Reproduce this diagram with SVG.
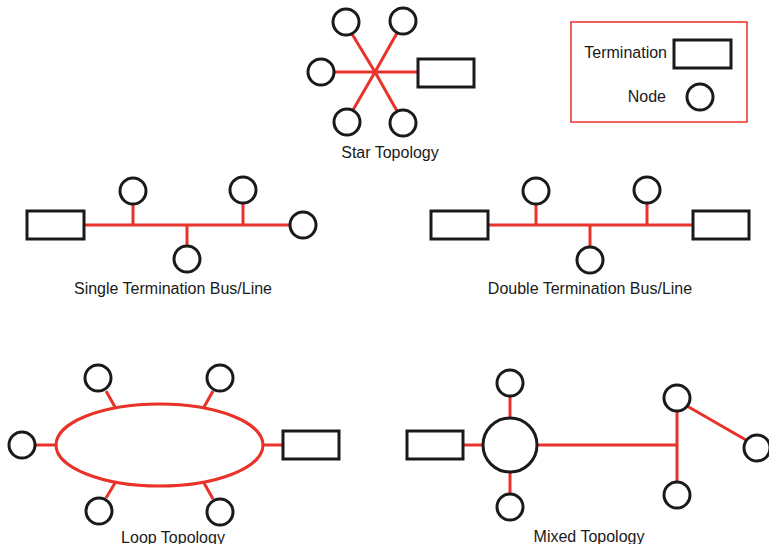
<svg xmlns="http://www.w3.org/2000/svg" width="769" height="544" viewBox="0 0 769 544">
<style>
.n{fill:#fff;stroke:#1a1a1a;stroke-width:3}
.t{fill:#fff;stroke:#1a1a1a;stroke-width:3}
.c{stroke:#e8322a;stroke-width:3;fill:none}
.l{font-family:"Liberation Sans",Arial,sans-serif;font-size:16px;fill:#1a1a1a}
</style>
<rect width="769" height="544" fill="#fff"/>
<g id="connectors">
<!-- star -->
<line class="c" x1="375" y1="72" x2="352" y2="34"/>
<line class="c" x1="375" y1="72" x2="397" y2="33"/>
<line class="c" x1="334" y1="72" x2="418" y2="72"/>
<line class="c" x1="375" y1="72" x2="353" y2="110"/>
<line class="c" x1="375" y1="72" x2="397" y2="111"/>
<!-- single bus -->
<line class="c" x1="84" y1="225" x2="290" y2="225"/>
<line class="c" x1="133" y1="204" x2="133" y2="225"/>
<line class="c" x1="243" y1="203" x2="243" y2="225"/>
<line class="c" x1="187" y1="225" x2="187" y2="246"/>
<!-- double bus -->
<line class="c" x1="488" y1="225" x2="693" y2="225"/>
<line class="c" x1="536" y1="204" x2="536" y2="225"/>
<line class="c" x1="647" y1="203" x2="647" y2="225"/>
<line class="c" x1="590" y1="225" x2="590" y2="247"/>
<!-- loop -->
<ellipse class="c" cx="159.5" cy="445" rx="103.5" ry="41"/>
<line class="c" x1="35" y1="445" x2="56" y2="445"/>
<line class="c" x1="263" y1="445" x2="283" y2="445"/>
<line class="c" x1="106" y1="391" x2="115" y2="407"/>
<line class="c" x1="213" y1="391" x2="204" y2="407"/>
<line class="c" x1="115" y1="483" x2="106" y2="498"/>
<line class="c" x1="204" y1="483" x2="213" y2="499"/>
<!-- mixed -->
<line class="c" x1="463" y1="445" x2="483" y2="445"/>
<line class="c" x1="510" y1="396" x2="510" y2="418"/>
<line class="c" x1="510" y1="472" x2="510" y2="494"/>
<line class="c" x1="537" y1="445" x2="677" y2="445"/>
<line class="c" x1="677" y1="411" x2="677" y2="482"/>
<line class="c" x1="687" y1="406" x2="746" y2="440"/>
</g>
<g id="star">
<circle id="star-n1" class="n" cx="346" cy="22" r="13"/>
<circle id="star-n2" class="n" cx="403" cy="21" r="13"/>
<circle id="star-n3" class="n" cx="321" cy="72" r="13"/>
<circle id="star-n4" class="n" cx="347" cy="122" r="13"/>
<circle id="star-n5" class="n" cx="403" cy="123" r="13"/>
<rect id="star-t" class="t" x="418" y="59" width="56" height="28"/>
<text class="l" x="390" y="158" text-anchor="middle">Star Topology</text>
</g>
<g id="legend">
<rect x="571" y="22" width="176" height="100" fill="none" stroke="#e8322a" stroke-width="1.5"/>
<text class="l" x="667" y="58" text-anchor="end">Termination</text>
<rect class="t" x="674" y="40" width="57" height="28"/>
<text class="l" x="666" y="102" text-anchor="end">Node</text>
<circle class="n" cx="700" cy="97" r="13"/>
</g>
<g id="single-bus">
<rect class="t" x="27" y="211" width="57" height="28"/>
<circle class="n" cx="133" cy="191" r="13"/>
<circle class="n" cx="243" cy="190" r="13"/>
<circle class="n" cx="187" cy="259" r="13"/>
<circle class="n" cx="303" cy="225" r="13"/>
<text class="l" x="173" y="294" text-anchor="middle">Single Termination Bus/Line</text>
</g>
<g id="double-bus">
<rect class="t" x="431" y="211" width="57" height="28"/>
<rect class="t" x="693" y="211" width="56" height="28"/>
<circle class="n" cx="536" cy="191" r="13"/>
<circle class="n" cx="647" cy="190" r="13"/>
<circle class="n" cx="590" cy="260" r="13"/>
<text class="l" x="590" y="294" text-anchor="middle">Double Termination Bus/Line</text>
</g>
<g id="loop">
<circle class="n" cx="22" cy="445" r="13"/>
<rect class="t" x="283" y="431" width="56" height="28"/>
<circle class="n" cx="98" cy="378" r="13"/>
<circle class="n" cx="220" cy="378" r="13"/>
<circle class="n" cx="99" cy="511" r="13"/>
<circle class="n" cx="220" cy="512" r="13"/>
<text class="l" x="173" y="543" text-anchor="middle">Loop Topology</text>
</g>
<g id="mixed">
<rect class="t" x="407" y="431" width="56" height="28"/>
<circle class="n" cx="510" cy="445" r="27"/>
<circle class="n" cx="510" cy="383" r="13"/>
<circle class="n" cx="510" cy="507" r="13"/>
<circle class="n" cx="677" cy="398" r="13"/>
<circle class="n" cx="677" cy="495" r="13"/>
<circle class="n" cx="757" cy="448" r="13"/>
<text class="l" x="589" y="542" text-anchor="middle">Mixed Topology</text>
</g>
</svg>
